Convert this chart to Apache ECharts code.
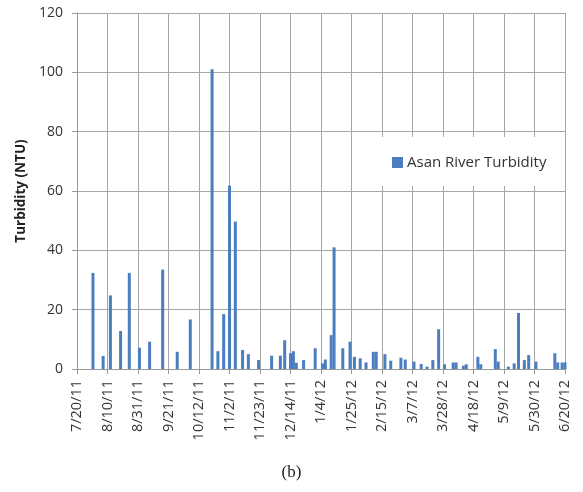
<!DOCTYPE html>
<html>
<head>
<meta charset="utf-8">
<script src="https://cdn.jsdelivr.net/npm/echarts@6/dist/echarts.min.js"></script>
<style>
html,body{margin:0;padding:0;background:#fff;}
#chart{width:583px;height:492px;}
</style>
</head>
<body>
<div id="chart"></div>
<script>
// Sampling dates (m/d/yy) and turbidity values (NTU)
const sampleDates = [
  "7/31/11","8/7/11","8/12/11","8/19/11","8/25/11","9/1/11","9/8/11","9/17/11","9/27/11","10/6/11",
  "10/21/11","10/25/11","10/29/11","11/2/11","11/6/11","11/11/11","11/15/11","11/22/11","12/1/11","12/7/11",
  "12/10/11","12/14/11","12/16/11","12/18/11","12/23/11","12/31/11","1/5/12","1/7/12","1/11/12","1/13/12",
  "1/19/12","1/24/12","1/27/12","1/31/12","2/4/12","2/9/12","2/11/12","2/17/12","2/21/12","2/28/12",
  "3/2/12","3/8/12","3/13/12","3/17/12","3/21/12","3/25/12","3/29/12","4/4/12","4/6/12","4/11/12",
  "4/13/12","4/21/12","4/23/12","5/3/12","5/5/12","5/12/12","5/16/12","5/19/12","5/23/12","5/26/12",
  "5/31/12","6/13/12","6/15/12","6/18/12","6/20/12"
];
const turbidity = [
  32.4,4.4,24.8,12.8,32.4,7.2,9.2,33.5,5.8,16.7,
  101,6.0,18.5,61.8,49.7,6.4,5.0,3.0,4.5,4.5,
  9.7,5.3,6.0,2.1,3.0,7.0,1.9,3.2,11.4,41.0,
  7.0,9.2,4.1,3.6,2.2,5.8,5.8,5.0,2.8,3.8,
  3.2,2.5,1.7,0.8,3.0,13.4,1.6,2.2,2.2,1.1,
  1.6,4.1,1.6,6.7,2.5,0.8,1.9,18.9,3.0,4.7,
  2.5,5.3,2.2,2.2,2.2
];
const axisStartDate = "7/20/11";
const axisEndDate = "6/20/12";
const tickStepDays = 21;
const yTicks = [0, 20, 40, 60, 80, 100, 120];
const seriesName = "Asan River Turbidity";
const yTitle = "Turbidity (NTU)";
const caption = "(b)";

function toUTC(s){
  const p = s.split("/").map(Number);
  return Date.UTC(2000 + p[2], p[0]-1, p[1]);
}
const DAY = 86400000;
const t0 = toUTC(axisStartDate);
const spanDays = Math.round((toUTC(axisEndDate) - t0)/DAY);
function dayToLabel(d){
  const dt = new Date(t0 + d*DAY);
  return (dt.getUTCMonth()+1) + "/" + dt.getUTCDate() + "/" + String(dt.getUTCFullYear()%100).padStart(2,"0");
}
const barData = sampleDates.map((s,i)=>[Math.round((toUTC(s)-t0)/DAY), turbidity[i]]);

const chart = echarts.init(document.getElementById('chart'), null, {renderer:'canvas'});
const font = "'Open Sans', sans-serif";
chart.setOption({
  animation:false,
  backgroundColor:'#fff',
  grid:{left:77, right:18, top:13, bottom:123, containLabel:false},
  title:{text:caption, left:'center', top:459,
    textStyle:{fontFamily:"'Liberation Serif', serif", fontWeight:'normal', fontSize:17, color:'#222'}},
  legend:{
    data:[seriesName], left:380, top:137,
    backgroundColor:'#fff', padding:[18,16,16,12],
    itemWidth:11, itemHeight:11, icon:'rect', itemGap:10,
    textStyle:{fontFamily:font, fontSize:15, color:'#333', padding:[0,0,0,-1]}
  },
  xAxis:{
    type:'value', min:0, max:spanDays, interval:tickStepDays,
    axisLine:{show:true, lineStyle:{color:'#999', width:1}},
    axisTick:{show:true, length:5, lineStyle:{color:'#999'}},
    splitLine:{show:true, lineStyle:{color:'#a6a6a6', width:1}},
    axisLabel:{rotate:90, margin:11, fontFamily:font, fontSize:14.5, color:'#333',
      formatter:v=>dayToLabel(v)}
  },
  yAxis:{
    type:'value', min:yTicks[0], max:yTicks[yTicks.length-1], interval:yTicks[1]-yTicks[0],
    name:yTitle, nameLocation:'middle', nameGap:49,
    nameTextStyle:{fontFamily:font, fontSize:13.5, fontWeight:'bold', color:'#222'},
    axisLine:{show:true, lineStyle:{color:'#999'}},
    axisTick:{show:true, length:5, lineStyle:{color:'#999'}},
    splitLine:{show:true, lineStyle:{color:'#a6a6a6', width:1}},
    axisLabel:{margin:14, fontFamily:font, fontSize:14, color:'#333'}
  },
  series:[{
    name:seriesName, type:'bar', data:barData, barWidth:3,
    itemStyle:{color:'#4a7ebf'}
  }]
});
</script>
</body>
</html>
